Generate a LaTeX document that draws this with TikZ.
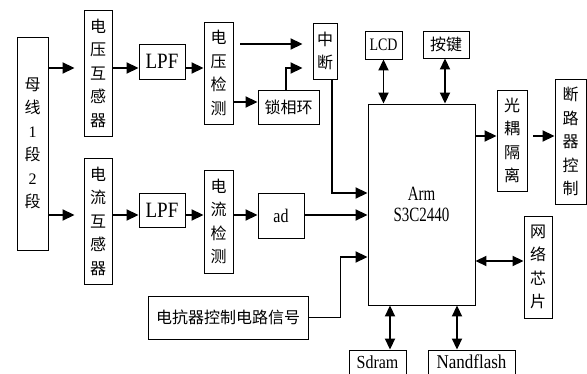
\documentclass[tikz,border=0pt]{standalone}
\usepackage{fontspec}
\setmainfont{Liberation Serif}
\newfontfamily\cjk{Noto Sans CJK SC}
\usetikzlibrary{calc, positioning}
\usetikzlibrary{arrows.meta}
\newcommand\vstr[2]{\scalebox{1}[#1]{#2}}

\begin{document}
\begin{tikzpicture}[x=1pt, y=-1pt,
  blk/.style={draw, line width=0.9pt, inner sep=0pt, align=center},
  cn/.style={blk, font=\cjk\fontsize{16}{23.5}\selectfont},
  en/.style={blk, font=\fontsize{#1}{21}\selectfont},
  arr/.style={line width=1.8pt, -{Triangle[length=12pt, width=11pt]}},
  darr/.style={line width=1.8pt, {Triangle[length=11pt, width=10pt]}-{Triangle[length=11pt, width=10pt]}}]
\useasboundingbox (0,0) rectangle (587,374);

\coordinate (rowa) at (0,68);
\coordinate (rowb) at (0,215);
\coordinate (rowc) at (0,44);
\coordinate (rowd) at (0,193);
\coordinate (rowe) at (0,257);
\coordinate (rowf) at (0,136);
\coordinate (rowg) at (0,261);

\node[cn, minimum width=31pt, minimum height=213pt] (bus) at (32.5,143.5) {母\\线\\{\rmfamily 1}\\段\\{\rmfamily 2}\\段};
\node[cn, minimum width=28pt, minimum height=126pt] (vpt) at (98,73) {电\\压\\互\\感\\器};
\node[cn, minimum width=28pt, minimum height=126pt] (ipt) at (98,221) {电\\流\\互\\感\\器};
\node[en=19, minimum width=46pt, minimum height=35pt] (lpfv) at (162,61.5) {\vstr{1.15}{LPF}};
\node[en=19, minimum width=46pt, minimum height=34pt] (lpfi) at (162,210) {\vstr{1.15}{LPF}};
\node[cn, minimum width=29pt, minimum height=102pt] (vdet) at (218.5,73) {电\\压\\检\\测};
\node[cn, minimum width=29pt, minimum height=103pt] (idet) at (218.5,221.5) {电\\流\\检\\测};
\node[cn, minimum width=61pt, minimum height=34pt] (pll) at (288.5,107) {锁相环};
\node[en=16, minimum width=46pt, minimum height=45pt] (ad) at (281,215.5) {\vstr{1.2}{ad}};
\node[cn, minimum width=24pt, minimum height=56pt] (intr) at (325,51) {中\\断};
\node[cn, minimum width=160pt, minimum height=43pt] (react) at (228,317.5) {电抗器控制电路信号};
\node[en=14, minimum width=37pt, minimum height=28pt] (lcd) at (383.5,45) {\vstr{1.25}{LCD}};
\node[cn, minimum width=46pt, minimum height=27pt] (key) at (446,44.5) {按键};
\node[en=15, minimum width=107pt, minimum height=201pt] (arm) at (421.5,204.5) {\vstr{1.35}{Arm}\\\vstr{1.35}{S3C2440}};
\node[cn, minimum width=30pt, minimum height=101pt] (opto) at (512,140.5) {光\\耦\\隔\\离};
\node[cn, minimum width=31pt, minimum height=125pt] (brk) at (570.5,141.5) {断\\路\\器\\控\\制};
\node[cn, minimum width=28pt, minimum height=102pt] (net) at (538,267) {网\\络\\芯\\片};
\node[en=16, minimum width=57pt, minimum height=24pt] (sdram) at (377.5,362) {\vstr{1.15}{Sdram}};
\node[en=17, minimum width=87pt, minimum height=24pt] (nand) at (471.5,362) {\vstr{1.15}{Nandflash}};

\draw[arr, shorten >=9pt] (bus.east |- rowa) -- (vpt.west |- rowa);
\draw[arr, shorten >=9pt] (bus.east |- rowb) -- (ipt.west |- rowb);
\draw[arr] (vpt.east |- rowa) -- (lpfv.west |- rowa);
\draw[arr] (lpfv.east |- rowa) -- (vdet.west |- rowa);
\draw[arr] (ipt.east |- rowb) -- (lpfi.west |- rowb);
\draw[arr] (lpfi.east |- rowb) -- (idet.west |- rowb);
\draw[arr] (idet.east |- rowb) -- (ad.west |- rowb);
\draw[arr] (ad.east |- rowb) -- (arm.west |- rowb);
\draw[arr] (vdet.east |- pll.west) ++(0,-5) -- ([yshift=5pt]pll.west);
\draw[arr] ([xshift=7pt]vdet.east |- rowc) -- ([xshift=-10pt]intr.west |- rowc);
\draw[arr] ([xshift=-2.5pt]pll.north) |- ([xshift=-10pt]intr.west |- rowa);
\draw[arr] ([xshift=7pt]intr.south) |- (arm.west |- rowd);
\draw[arr] (react.east) -- ++(32,0) |- (arm.west |- rowe);
\draw[darr] (lcd.south) -- (lcd.south |- arm.north);
\draw[darr] ([xshift=-1pt]key.south) -- ([xshift=-1pt]key.south |- arm.north);
\draw[arr] (arm.east |- rowf) -- (opto.west |- rowf);
\draw[arr] ([xshift=6pt]opto.east |- rowf) -- (brk.west |- rowf);
\draw[darr] (arm.east |- rowg) -- (net.west |- rowg);
\draw[darr] ([xshift=12.5pt]sdram.north |- arm.south) -- ([xshift=12.5pt]sdram.north);
\draw[darr] ([xshift=-14.5pt]nand.north |- arm.south) -- ([xshift=-14.5pt]nand.north);
\end{tikzpicture}
\end{document}
